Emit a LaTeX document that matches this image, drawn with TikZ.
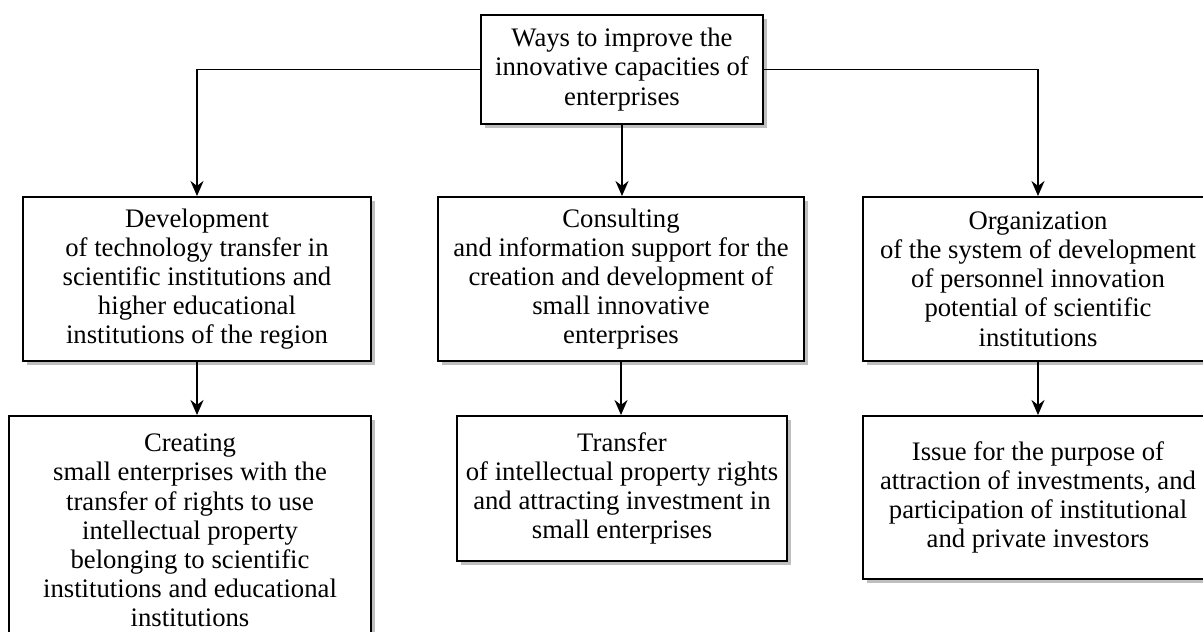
\documentclass[tikz,border=0pt]{standalone}
\usepackage{fontspec}
\setmainfont{Liberation Serif}
\usepackage{tikz}
\usetikzlibrary{arrows.meta,shadows}

\begin{document}
\begin{tikzpicture}[
            > = {Stealth[length=3mm,width=2.6mm]}, % arrow head style
            box/.style = {draw, line width=1.1pt, fill=white, align=center,
                inner sep=2pt, font=\fontsize{15.2}{16.6}\selectfont,
                drop shadow={fill=gray!50, opacity=1, shadow xshift=0.07cm, shadow yshift=-0.07cm}},
            link/.style = {line width=1.1pt, ->}
        ]
	\useasboundingbox (0,0) rectangle (24.06,-12.64);

	% top level
	\node[box, minimum width=5.64cm, minimum height=2.18cm] (top) at (12.44,-1.39)
		{Ways to improve the\\innovative capacities of\\enterprises};

	% second level
	\node[box, minimum width=6.96cm, minimum height=3.28cm] (dev) at (3.94,-5.58)
		{Development\\of technology transfer in\\scientific institutions and\\higher educational\\institutions of the region};
	\node[box, minimum width=7.32cm, minimum height=3.28cm] (cons) at (12.42,-5.58)
		{Consulting\\and information support for the\\creation and development of\\small innovative\\enterprises};
	\node[box, minimum width=7.0cm, minimum height=3.28cm] (org) at (20.76,-5.58)
		{Organization\\of the system of development\\of personnel innovation\\potential of scientific\\institutions};

	% third level
	\node[box, minimum width=7.24cm, minimum height=4.58cm] (create) at (3.8,-10.61)
		{Creating\\small enterprises with the\\transfer of rights to use\\intellectual property\\belonging to scientific\\institutions and educational\\institutions};
	\node[box, minimum width=6.6cm, minimum height=2.9cm] (transfer) at (12.44,-9.77)
		{Transfer\\of intellectual property rights\\and attracting investment in\\small enterprises};
	\node[box, minimum width=7.0cm, minimum height=3.26cm] (issue) at (20.76,-9.95)
		{Issue for the purpose of\\attraction of investments, and\\participation of institutional\\and private investors};

	\draw[link] (top.west) -| (dev.north);
	\draw[link] (top.east) -| (org.north);
	\draw[link] (top.south) -- (top.south |- cons.north);
	\draw[link] (dev.south) -- (dev.south |- create.north);
	\draw[link] (cons.south) -- (cons.south |- transfer.north);
	\draw[link] (org.south) -- (issue.north);

\end{tikzpicture}
\end{document}
